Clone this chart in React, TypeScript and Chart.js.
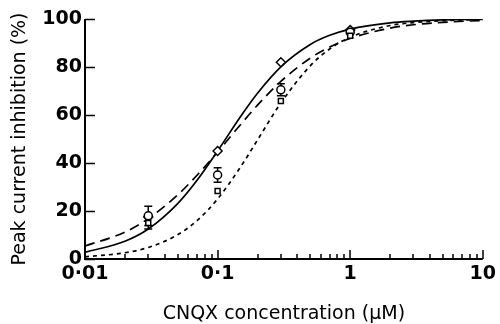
import React, { useEffect, useRef } from "react";
import { Chart, registerables } from "chart.js";
Chart.register(...registerables);

// Measured points (concentration in µM, % inhibition)
const concentrations = [0.03, 0.1, 0.3, 1];
const diamondValues = [17.5, 45, 82, 95.4];
const circleValues = [18, 35, 70.5, 94.5];
const circleErrors = [4, 3, 2.5, 0];
const squareValues = [15, 28.3, 65.8, 93];
const squareErrors = [2.5, 0, 0, 0];

// Fitted curves
const curveX = [0.01, 0.02, 0.03, 0.05, 0.07, 0.1, 0.15, 0.2, 0.3, 0.5, 0.7, 1, 2, 3, 5, 10];
const curveSolid = [2.8, 7.4, 12.5, 23.1, 32.8, 45.0, 59.6, 69.1, 80.1, 89.4, 93.2, 95.8, 98.4, 99.1, 99.6, 99.85];
const curveLongDash = [5.4, 11.2, 16.8, 26.7, 34.9, 44.6, 56.2, 64.1, 74.0, 83.7, 88.3, 91.9, 96.2, 97.6, 98.6, 99.4];
const curveShortDash = [0.9, 2.6, 4.8, 10.1, 16.0, 25.0, 38.6, 49.6, 65.0, 80.5, 87.5, 92.4, 97.3, 98.5, 99.3, 99.8];

const xTickValues = [0.01, 0.1, 1, 10];
const xTickLabels = ["0·01", "0·1", "1", "10"];
const yTickValues = [0, 20, 40, 60, 80, 100];
const xMinorMultipliers = [2, 3, 4, 5, 6, 7, 8, 9];

const FONT = "DejaVu Sans";

const decoPlugin = {
  id: "deco",
  beforeDatasetsDraw(chart: any) {
    const { ctx, scales } = chart;
    const x = scales.x, y = scales.y;
    ctx.save();
    ctx.strokeStyle = "#000";
    ctx.lineWidth = 1.5;
    const draw = (vals: number[], errs: number[]) => {
      vals.forEach((v, i) => {
        const e = errs[i];
        if (!e) return;
        const px = x.getPixelForValue(concentrations[i]);
        const pt = y.getPixelForValue(v + e);
        const pb = y.getPixelForValue(v - e);
        ctx.beginPath();
        ctx.moveTo(px, pt);
        ctx.lineTo(px, pb);
        ctx.moveTo(px - 4, pt);
        ctx.lineTo(px + 4, pt);
        ctx.moveTo(px - 4, pb);
        ctx.lineTo(px + 4, pb);
        ctx.stroke();
      });
    };
    draw(circleValues, circleErrors);
    draw(squareValues, squareErrors);
    ctx.restore();
  },
  afterDraw(chart: any) {
    const { ctx, chartArea, scales } = chart;
    const { left, right, top, bottom } = chartArea;
    const x = scales.x, y = scales.y;
    ctx.save();
    ctx.strokeStyle = "#000";
    ctx.lineWidth = 2;
    ctx.beginPath();
    ctx.moveTo(left, top);
    ctx.lineTo(left, bottom);
    ctx.lineTo(right, bottom);
    ctx.stroke();
    ctx.lineWidth = 1.5;
    ctx.beginPath();
    yTickValues.forEach((v) => {
      const py = Math.round(y.getPixelForValue(v)) + 0.5;
      ctx.moveTo(left, py);
      ctx.lineTo(left + 10, py);
    });
    xTickValues.forEach((v) => {
      const px = Math.round(x.getPixelForValue(v));
      ctx.moveTo(px, bottom);
      ctx.lineTo(px, bottom - 9);
    });
    xTickValues.slice(0, 3).forEach((d) => {
      xMinorMultipliers.forEach((m) => {
        const px = Math.round(x.getPixelForValue(d * m));
        ctx.moveTo(px, bottom);
        ctx.lineTo(px, bottom - 5);
      });
    });
    ctx.stroke();
    ctx.restore();
  },
};

export default function App() {
  const ref = useRef<HTMLCanvasElement | null>(null);
  useEffect(() => {
    document.body.style.margin = "0";
    const canvas = ref.current;
    if (!canvas) return;
    const pts = (vals: number[]) => concentrations.map((c, i) => ({ x: c, y: vals[i] }));
    const curve = (vals: number[]) => curveX.map((c, i) => ({ x: c, y: vals[i] }));
    const chart = new Chart(canvas, {
      type: "line",
      data: {
        datasets: [
          {
            label: "solid",
            data: curve(curveSolid),
            borderColor: "#000",
            borderWidth: 1.7,
            pointRadius: 0,
            cubicInterpolationMode: "monotone",
            order: 2,
          },
          {
            label: "long dash",
            data: curve(curveLongDash),
            borderColor: "#000",
            borderWidth: 1.7,
            borderDash: [10, 6],
            pointRadius: 0,
            cubicInterpolationMode: "monotone",
            order: 2,
          },
          {
            label: "short dash",
            data: curve(curveShortDash),
            borderColor: "#000",
            borderWidth: 1.7,
            borderDash: [4, 4],
            pointRadius: 0,
            cubicInterpolationMode: "monotone",
            order: 2,
          },
          {
            label: "squares",
            data: pts(squareValues),
            showLine: false,
            pointStyle: "rect",
            pointRadius: 3.5,
            pointBackgroundColor: "#fff",
            pointBorderColor: "#000",
            pointBorderWidth: 1.5,
            order: 1,
          },
          {
            label: "circles",
            data: pts(circleValues),
            showLine: false,
            pointStyle: "circle",
            pointRadius: 4,
            pointBackgroundColor: "#fff",
            pointBorderColor: "#000",
            pointBorderWidth: 1.5,
            order: 1,
          },
          {
            label: "diamonds",
            data: pts(diamondValues),
            showLine: false,
            pointStyle: "rectRot",
            pointRadius: 4.5,
            pointBackgroundColor: "#fff",
            pointBorderColor: "#000",
            pointBorderWidth: 1.5,
            order: 1,
          },
        ],
      },
      options: {
        animation: false,
        responsive: true,
        maintainAspectRatio: false,
        layout: { padding: { left: 0, right: 13, top: 19, bottom: 0 } },
        plugins: { legend: { display: false }, tooltip: { enabled: false } },
        scales: {
          x: {
            type: "logarithmic",
            min: 0.01,
            max: 10,
            grid: { display: false, drawTicks: false },
            border: { display: false },
            afterBuildTicks: (scale: any) => {
              scale.ticks = xTickValues.map((v) => ({ value: v }));
            },
            afterFit: (scale: any) => {
              scale.height = 65;
            },
            ticks: {
              autoSkip: false,
              maxRotation: 0,
              padding: 4,
              color: "#000",
              font: { family: FONT, size: 19, weight: "bold" },
              callback: (v: any) => {
                const i = xTickValues.indexOf(Number(v));
                return i >= 0 ? xTickLabels[i] : "";
              },
            },
            title: {
              display: true,
              text: "CNQX concentration (μM)",
              color: "#000",
              font: { family: FONT, size: 19, lineHeight: 1.0 },
              padding: { top: 0, bottom: 0 },
            },
          },
          y: {
            type: "linear",
            min: 0,
            max: 100,
            grid: { display: false, drawTicks: false },
            border: { display: false },
            afterBuildTicks: (scale: any) => {
              scale.ticks = yTickValues.map((v) => ({ value: v }));
            },
            afterFit: (scale: any) => {
              scale.width = 85;
            },
            ticks: {
              padding: 3,
              color: "#000",
              font: { family: FONT, size: 19, weight: "bold" },
            },
            title: {
              display: true,
              text: "Peak current inhibition (%)",
              color: "#000",
              font: { family: FONT, size: 19 },
              padding: { top: 9, bottom: 0 },
            },
          },
        },
      },
      plugins: [decoPlugin],
    });
    return () => chart.destroy();
  }, []);
  return (
    <div style={{ width: 500, height: 324, position: "relative" }}>
      <canvas ref={ref} />
    </div>
  );
}
